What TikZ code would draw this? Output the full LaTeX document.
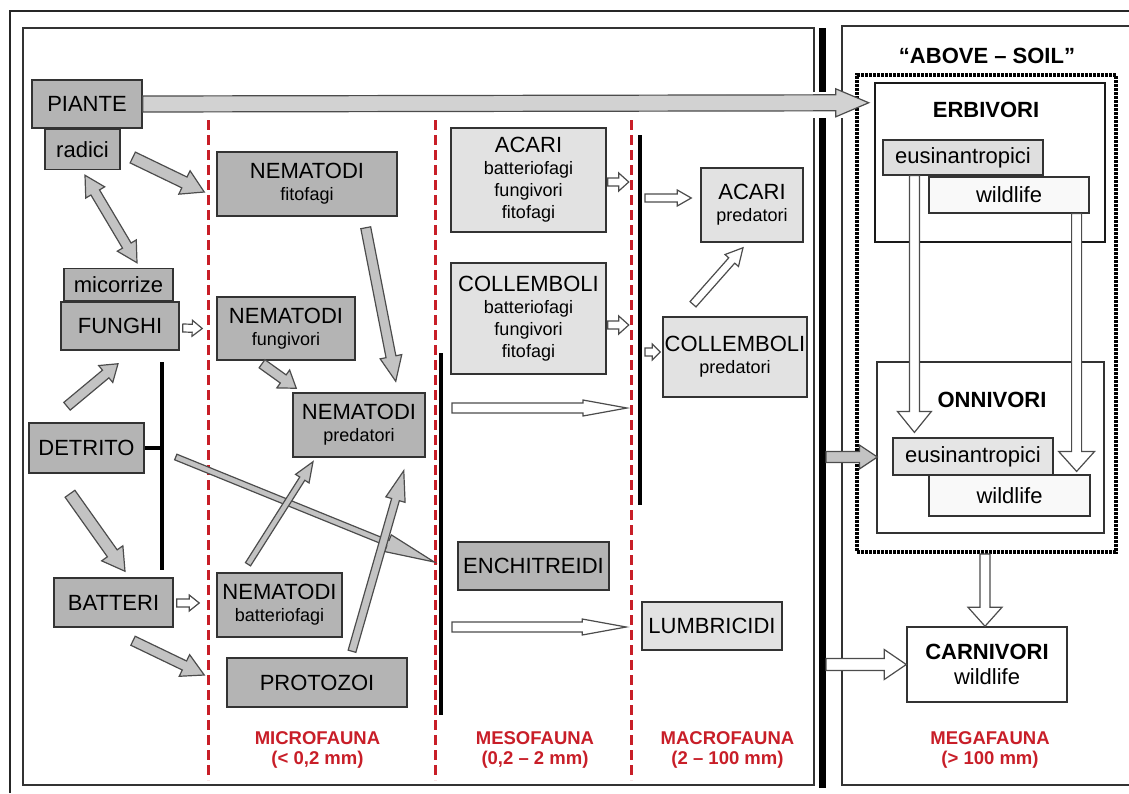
\documentclass[tikz,border=0pt]{standalone}
\usepackage{fontspec}
\setmainfont{Liberation Sans}
\usetikzlibrary{positioning,calc}

\definecolor{faunared}{RGB}{200,30,40}
\definecolor{boxgray}{RGB}{180,180,180}
\definecolor{boxlight}{RGB}{226,226,226}
\definecolor{arrowgray}{RGB}{195,195,195}

\newcommand{\labfont}{\fontsize{22}{22}\selectfont}
\newcommand{\subfont}{\fontsize{18}{22}\selectfont}

% block arrow: [style]{from}{to}{shaft half width}{head half width}{head length}
\newcommand{\blockarrow}[6][]{%
  \coordinate (ba-s) at #2;
  \coordinate (ba-e) at #3;
  \coordinate (ba-c) at ($(ba-e)!#6!(ba-s)$);
  \draw[#1] ($(ba-s)!#4!90:(ba-e)$) -- ($(ba-c)!#4!90:(ba-e)$) -- ($(ba-c)!#5!90:(ba-e)$) -- (ba-e)
    -- ($(ba-c)!#5!-90:(ba-e)$) -- ($(ba-c)!#4!-90:(ba-e)$) -- ($(ba-s)!#4!-90:(ba-e)$) -- cycle;}
% same, with a head at both ends
\newcommand{\twowayarrow}[6][]{%
  \coordinate (ba-s) at #2;
  \coordinate (ba-e) at #3;
  \coordinate (ba-c) at ($(ba-e)!#6!(ba-s)$);
  \coordinate (ba-d) at ($(ba-s)!#6!(ba-e)$);
  \draw[#1] (ba-s) -- ($(ba-d)!#5!90:(ba-e)$) -- ($(ba-d)!#4!90:(ba-e)$) -- ($(ba-c)!#4!90:(ba-e)$)
    -- ($(ba-c)!#5!90:(ba-e)$) -- (ba-e) -- ($(ba-c)!#5!-90:(ba-e)$) -- ($(ba-c)!#4!-90:(ba-e)$)
    -- ($(ba-d)!#4!-90:(ba-e)$) -- ($(ba-d)!#5!-90:(ba-e)$) -- cycle;}

\begin{document}
\begin{tikzpicture}[x=1pt, y=-1pt,
        box/.style = {draw=black!80, line width=1.5pt, inner sep=0pt, align=center, font=\labfont},
        darkbox/.style = {box, fill=boxgray},
        lightbox/.style = {box, fill=boxlight},
        whitebox/.style = {box, fill=white},
        headline/.style = {font=\labfont\bfseries},
        fauna/.style = {text=faunared, font=\fontsize{18.5}{20}\selectfont\bfseries, align=center},
        limit/.style = {faunared, line width=3pt, dash pattern=on 10pt off 5pt},
        bar/.style = {line width=4pt},
        panel/.style = {draw=black!80, line width=1.3pt},
        grayarrow/.style = {draw=black!70, fill=arrowgray, line width=1.2pt},
        whitearrow/.style = {draw=black!70, fill=white, line width=1.2pt},
        node distance = 0pt
    ]
    \useasboundingbox (0,0) rectangle (1129,793);

    % frame and panels
    \draw[line width=1.5pt, black!85] (10,793) -- (10,11) -- (1129,11);
    \draw[panel] (814,92) -- (814,28) -- (23,28) -- (23,785) -- (814,785) -- (814,118);
    \draw[panel] (842,92) -- (842,26) -- (1129,26);
    \draw[panel] (842,118) -- (842,785) -- (1129,785);
    \coordinate (wall) at (822,28);
    \draw[line width=7pt] (wall) -- (822,92);
    \draw[line width=7pt] (822,118) -- (822,788);

    % size limits
    \foreach \x in {208,435,631}
        \draw[limit] (\x,120) -- (\x,780);

    % soil boxes
    \node[darkbox, minimum width=110pt, minimum height=48pt] (piante) at (87,104) {PIANTE};
    \node[darkbox, minimum width=75pt, minimum height=40pt, below=0pt of piante, xshift=-4.5pt] (radici) {radici};
    \node[darkbox, minimum width=118pt, minimum height=48pt] (funghi) at (120,326) {FUNGHI};
    \node[darkbox, minimum width=109pt, minimum height=32pt, above=0pt of funghi, xshift=-1.5pt] (micor) {micorrize};
    \node[darkbox, minimum width=115pt, minimum height=50pt] (detrito) at (86.5,448) {DETRITO};
    \node[darkbox, minimum width=119pt, minimum height=49pt] (batteri) at (113.5,602.5) {BATTERI};

    \node[darkbox, minimum width=180pt, minimum height=64pt] (nfito) at (307,184) {NEMATODI\\{\subfont fitofagi}};
    \node[darkbox, minimum width=138pt, minimum height=63pt] (nfung) at (286,328.5) {NEMATODI\\{\subfont fungivori}};
    \node[darkbox, minimum width=132pt, minimum height=64pt] (npred) at (359,425) {NEMATODI\\{\subfont predatori}};
    \node[darkbox, minimum width=125pt, minimum height=64pt] (nbatt) at (279.5,605) {NEMATODI\\{\subfont batteriofagi}};
    \node[darkbox, minimum width=180pt, minimum height=49pt] (proto) at (317,682.5) {PROTOZOI};

    \node[lightbox, minimum width=155pt, minimum height=104pt] (acari) at (528.5,180)
        {ACARI\\{\subfont batteriofagi}\\{\subfont fungivori}\\{\subfont fitofagi}};
    \node[lightbox, minimum width=155pt, minimum height=111pt] (coll) at (528.5,318.5)
        {COLLEMBOLI\\{\subfont batteriofagi}\\{\subfont fungivori}\\{\subfont fitofagi}};
    \node[darkbox, minimum width=151pt, minimum height=48pt] (enchi) at (533.5,566) {ENCHITREIDI};
    \node[lightbox, minimum width=102pt, minimum height=74pt] (apred) at (752,205) {ACARI\\{\subfont predatori}};
    \node[lightbox, minimum width=144pt, minimum height=80pt] (cpred) at (735,357) {COLLEMBOLI\\{\subfont predatori}};
    \node[lightbox, minimum width=140pt, minimum height=48pt] (lumbri) at (712,626) {LUMBRICIDI};

    % bars
    \coordinate (dtop) at (162,362);
    \coordinate (mtop) at (441,353);
    \coordinate (ktop) at (640,135);
    \draw[bar] (dtop) -- (162,570);
    \draw[bar] (detrito.east) -- (detrito.east -| dtop);
    \draw[bar] (mtop) -- (441,715);
    \draw[bar] (ktop) -- (640,505);

    % above soil
    \node[headline] (abovet) at (987,56) {“ABOVE – SOIL”};
    \node[draw, line width=4pt, dash pattern=on 3pt off 1pt, minimum width=259pt, minimum height=477pt] (soil) at (986.5,313.5) {};
    \node[draw=black!90, line width=2.5pt, minimum width=230pt, minimum height=159pt] (erbi) at (990,162.5) {};
    \node[headline] (erbit) at (986,110) {ERBIVORI};
    \node[box, line width=1.2pt, fill=gray!25, minimum width=160pt, minimum height=35pt] (eus1) at (963,157.5) {eusinantropici};
    \node[box, line width=1.2pt, fill=gray!5, minimum width=160pt, minimum height=36pt] (wild1) at (1009,195) {wildlife};
    \node[draw=black!80, line width=1.3pt, minimum width=227pt, minimum height=171pt] (onni) at (990.5,447.5) {};
    \node[headline] (onnit) at (992,400) {ONNIVORI};
    \node[box, line width=1.2pt, fill=gray!20, minimum width=160pt, minimum height=37pt] (eus2) at (973,456.5) {eusinantropici};
    \node[box, line width=1.2pt, fill=gray!5, minimum width=161pt, minimum height=41pt] (wild2) at (1009.5,495.5) {wildlife};
    \node[whitebox, minimum width=160pt, minimum height=75pt] (carni) at (987,664.5) {{\bfseries CARNIVORI}\\[3pt]wildlife};

    % fauna classes
    \node[fauna] (micro) at (317.5,750) {MICROFAUNA\\(< 0,2 mm)};
    \node[fauna] (meso)  at (535,750)   {MESOFAUNA\\(0,2 – 2 mm)};
    \node[fauna] (macro) at (727.5,750) {MACROFAUNA\\(2 – 100 mm)};
    \node[fauna] (mega)  at (990,750)   {MEGAFAUNA\\(> 100 mm)};

    % arrows, soil
    \blockarrow[grayarrow]{($(detrito.east)+(31,9)$)}{($(enchi.west)+(-23,-4)$)}{3pt}{9pt}{50pt}
    \blockarrow[grayarrow]{($(radici.east)+(12,8)$)}{($(nfito.west)+(-12,8)$)}{6pt}{13pt}{22pt}
    \twowayarrow[grayarrow]{($(radici.south)+(2.5,5)$)}{($(micor.north)+(18.5,-5)$)}{5pt}{11pt}{20pt}
    \blockarrow[grayarrow]{($(nfung.south)+(-24,3)$)}{($(npred.north west)+(4,-4)$)}{5pt}{11pt}{16pt}
    \blockarrow[grayarrow]{($(nfito.south east)+(-32,11)$)}{($(npred.north east)+(-30,-11)$)}{5pt}{11pt}{25pt}
    \blockarrow[grayarrow]{($(detrito.north)+(-19.5,-16)$)}{($(funghi.south)+(-2,13)$)}{5pt}{11pt}{16pt}
    \blockarrow[grayarrow]{($(detrito.south)+(-16.5,20)$)}{($(batteri.north)+(11.5,-6)$)}{6pt}{13pt}{22pt}
    \blockarrow[grayarrow]{($(batteri.south)+(19.5,13)$)}{($(proto.west)+(-22,-7.5)$)}{5pt}{12pt}{22pt}
    \blockarrow[grayarrow]{($(nbatt.north)+(-31.5,-8)$)}{($(npred.south)+(-46,4)$)}{3pt}{8pt}{20pt}
    \blockarrow[grayarrow]{($(proto.north)+(35,-6)$)}{($(npred.south east)+(-22,13)$)}{4pt}{10pt}{30pt}
    \blockarrow[whitearrow]{($(funghi.east)+(3,2)$)}{($(nfung.west)+(-14,0)$)}{4pt}{8pt}{10pt}
    \blockarrow[whitearrow]{($(batteri.east)+(3,0.5)$)}{($(nbatt.west)+(-17,-2)$)}{4pt}{8pt}{10pt}

    % arrows, meso and macro
    \blockarrow[whitearrow]{($(acari.east)+(1,2)$)}{($(acari.east)+(22,2)$)}{4pt}{9pt}{10pt}
    \blockarrow[whitearrow]{($(coll.east)+(1,6.5)$)}{($(coll.east)+(22,6.5)$)}{4pt}{9pt}{10pt}
    \blockarrow[whitearrow]{($(apred.west -| ktop)+(5,-7)$)}{($(apred.west)+(-9,-7)$)}{4pt}{8pt}{14pt}
    \blockarrow[whitearrow]{($(cpred.west -| ktop)+(5,-5)$)}{($(cpred.west)+(-2,-5)$)}{4pt}{8pt}{8pt}
    \blockarrow[whitearrow]{($(cpred.north)+(-42,-12)$)}{($(apred.south)+(-9,5)$)}{4pt}{9pt}{17pt}
    \coordinate (flow1) at (452,408);
    \coordinate (flow1e) at (627,408);
    \blockarrow[whitearrow]{(flow1)}{(flow1e)}{5pt}{8pt}{44pt}
    \blockarrow[whitearrow]{($(lumbri.west -| mtop)+(11,1)$)}{($(lumbri.west)+(-15,1)$)}{5pt}{8pt}{44pt}

    % arrows, above soil
    \blockarrow[grayarrow, fill=gray!35]{(piante.east)}{($(erbi.north west)+(-5,21)$)}{8pt}{14pt}{33pt}
    \blockarrow[grayarrow]{($(eus2.west -| wall)+(4,0.5)$)}{($(eus2.west)+(-15,0.5)$)}{5.5pt}{12pt}{18pt}
    \blockarrow[whitearrow]{($(carni.west -| wall)+(4,0)$)}{(carni.west)}{6pt}{15pt}{22pt}
    \blockarrow[whitearrow]{($(eus1.south west)+(32,0)$)}{($(eus2.north west)+(22,-5)$)}{5pt}{17pt}{21pt}
    \blockarrow[whitearrow]{($(wild1.south east)+(-13,0)$)}{($(wild2.north east)+(-14,-3)$)}{5pt}{18pt}{20pt}
    \blockarrow[whitearrow]{($(soil.south)+(-1.5,0)$)}{($(carni.north)+(-2,0)$)}{5pt}{17pt}{19pt}
\end{tikzpicture}
\end{document}
